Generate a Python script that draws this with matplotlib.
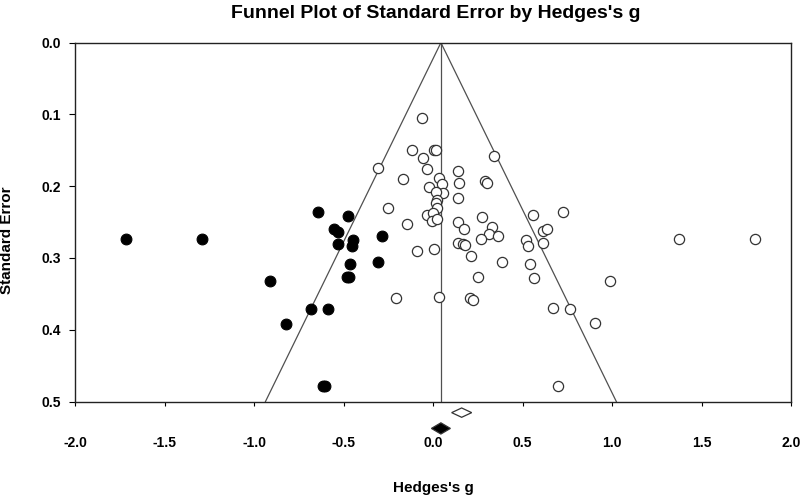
import numpy as np
from matplotlib import pyplot as plt
from matplotlib.patches import Polygon

plt.rcParams['font.family'] = ['Liberation Sans', 'DejaVu Sans']

# observed studies (Hedges's g, standard error)
obs_g = [-0.065, -0.121, 0.006, 0.015, -0.059, 0.339, -0.311, -0.034, 0.138, -0.168,
         0.030, 0.145, 0.291, 0.302, -0.022, 0.047, 0.056, 0.015, 0.019, 0.015,
         0.022, -0.255, 0.140, -0.037, 0.000, -0.009, 0.019, -0.149, 0.140, 0.173,
         0.270, 0.326, 0.313, 0.363, 0.265, 0.140, 0.168, 0.180, 0.213, -0.091,
         0.002, 0.385, 0.249, -0.208, 0.031, 0.203, 0.220, 0.559, 0.725, 0.518,
         0.531, 0.611, 0.634, 0.611, 0.542, 0.561, 0.668, 0.764, 0.905, 0.987,
         0.695, 1.373, 1.797]
obs_se = [0.105, 0.149, 0.150, 0.150, 0.161, 0.158, 0.174, 0.176, 0.179, 0.190,
          0.188, 0.195, 0.193, 0.195, 0.201, 0.197, 0.210, 0.208, 0.219, 0.224,
          0.231, 0.231, 0.216, 0.240, 0.238, 0.249, 0.246, 0.253, 0.250, 0.260,
          0.243, 0.257, 0.266, 0.269, 0.273, 0.279, 0.281, 0.282, 0.297, 0.290,
          0.288, 0.305, 0.327, 0.356, 0.355, 0.356, 0.358, 0.240, 0.236, 0.275,
          0.283, 0.263, 0.259, 0.279, 0.308, 0.328, 0.370, 0.371, 0.390, 0.332,
          0.478, 0.273, 0.274]

# imputed studies (trim and fill)
imp_g = [-1.717, -1.290, -0.646, -0.478, -0.555, -0.531, -0.531, -0.447, -0.456,
         -0.285, -0.307, -0.464, -0.480, -0.470, -0.911, -0.681, -0.590, -0.823,
         -0.615, -0.605]
imp_se = [0.274, 0.273, 0.236, 0.241, 0.259, 0.264, 0.280, 0.275, 0.283,
          0.270, 0.305, 0.309, 0.327, 0.327, 0.332, 0.371, 0.371, 0.392,
          0.478, 0.478]

# summary effects and their confidence limits
obs_mean, obs_ci = 0.159, (0.103, 0.215)
adj_mean, adj_ci = 0.043, (-0.010, 0.096)

fig = plt.figure(figsize=(8, 4.96), dpi=100)
ax = fig.add_axes([0.094, 0.1905, 0.895, 0.7235])

se_max = 0.5
ax.plot([adj_mean - 1.96 * se_max, adj_mean, adj_mean + 1.96 * se_max], [se_max, 0, se_max],
        color='#505050', lw=0.9, zorder=1)
ax.plot([adj_mean, adj_mean], [0, se_max], color='#505050', lw=0.9, zorder=1)

ax.scatter(obs_g, obs_se, s=54, facecolors='white', edgecolors='#333333', linewidths=0.9, zorder=3)
ax.scatter(imp_g, imp_se, s=60, facecolors='black', edgecolors='black', linewidths=0.8, zorder=4)

# summary diamonds below the axis
for m, ci, y, h, fc in [(obs_mean, obs_ci, 0.5155, 0.0065, 'white'),
                        (adj_mean, adj_ci, 0.5375, 0.0078, 'black')]:
    d = Polygon([[ci[0], y], [m, y - h], [ci[1], y], [m, y + h]], closed=True,
                facecolor=fc, edgecolor='#333333', lw=0.9, clip_on=False, zorder=5)
    ax.add_patch(d)

ax.set_xlim(-2, 2)
ax.set_ylim(0.5, 0)
ax.set_xticks(np.arange(-2, 2.01, 0.5))
ax.set_yticks(np.arange(0, 0.51, 0.1))
ax.set_xticklabels(['%.1f' % v for v in np.arange(-2, 2.01, 0.5)], fontweight='bold', fontsize=10)
ax.set_yticklabels(['%.1f' % v for v in np.arange(0, 0.51, 0.1)], fontweight='bold', fontsize=10)
ax.tick_params(axis='x', direction='out', length=3, pad=22, width=0.8)
ax.tick_params(axis='y', direction='out', length=4, pad=6, width=0.8)
for sp in ax.spines.values():
    sp.set_linewidth(1.0)
    sp.set_color('#222222')

ax.set_xlabel("Hedges's g", fontweight='bold', fontsize=11, labelpad=22)
ax.set_ylabel('Standard Error', fontweight='bold', fontsize=11)
ax.yaxis.set_label_coords(-0.086, 0.45)
fig.suptitle("Funnel Plot of Standard Error by Hedges's g", fontweight='bold', fontsize=14,
             x=0.545, y=0.99)

fig.savefig('out.png', dpi=100)
